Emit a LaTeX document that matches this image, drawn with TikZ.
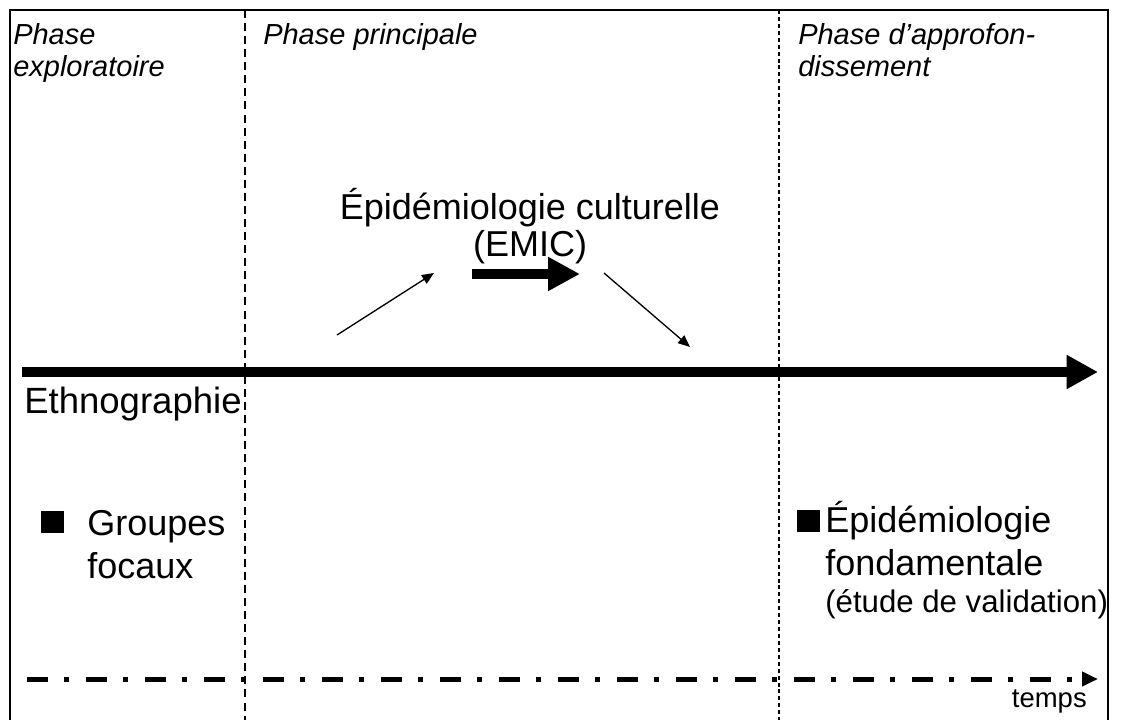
\documentclass[tikz,border=0pt]{standalone}
\usepackage{fontspec}
\setmainfont{Liberation Sans}
\usetikzlibrary{arrows.meta}
\begin{document}
\begin{tikzpicture}[x=0.75pt,y=-0.75pt,
  phase/.style={font=\fontsize{21.75pt}{24pt}\itshape\selectfont, inner sep=0pt, anchor=base west},
  big/.style={font=\fontsize{27pt}{30pt}\selectfont, inner sep=0pt},
  mid/.style={font=\fontsize{27.4pt}{30pt}\selectfont, inner sep=0pt},
  small/.style={font=\fontsize{23.4pt}{26pt}\selectfont, inner sep=0pt},
  tiny/.style={font=\fontsize{20.6pt}{23pt}\selectfont, inner sep=0pt},
  bullet/.style={fill=black, inner sep=0pt, minimum width=17pt, minimum height=16.5pt},
  frame/.style={line width=1.5pt},
  sepcoarse/.style={line width=1.4pt, dash pattern=on 6pt off 3.8pt},
  sepfine/.style={line width=0.8pt, dash pattern=on 3pt off 2.2pt},
  mainarrow/.style={line width=7.5pt, -{Triangle[length=23.5pt, width=24pt]}},
  thinarrow/.style={line width=1pt, -{Triangle[length=9pt, width=7.5pt]}},
  timearrow/.style={line width=3.75pt, dash pattern=on 15.75pt off 12pt on 3.75pt off 12.75pt,
    -{Triangle[length=12pt, width=10.5pt]}}
]
\useasboundingbox (0,0) rectangle (1121,720);
\clip (0,0) rectangle (1121,720);

% outer frame (open at the bottom edge of the page)
\draw[frame] (10,730) -- (10,10) -- (1108,10) -- (1108,730);

% phase separators
\draw[sepcoarse] (245,10) -- (245,730);
\draw[sepfine] (779,10) -- (779,730);

% phase titles
\node[phase] (expl1) at (13,45) {Phase};
\node[phase] (expl2) at (13,77) {exploratoire};
\node[phase] (princ) at (263,45) {Phase principale};
\node[phase] (appr1) at (798,45) {Phase d’approfon-};
\node[phase] (appr2) at (798,77) {dissement};

% cultural epidemiology
\node[big, anchor=base] (epicult) at (530,220) {Épidémiologie culturelle};
\node[big, anchor=base] (emic) at (530,257) {(EMIC)};

\coordinate (upS) at (337,335);
\coordinate (upE) at (434,273);
\coordinate (emicS) at (472,274);
\coordinate (emicE) at (580,274);
\coordinate (downS) at (604,273);
\coordinate (downE) at (690,347);
\draw[thinarrow] (upS) -- (upE);
\draw[mainarrow, -{Triangle[length=24pt, width=24pt]}] (emicS) -- (emicE);
\draw[thinarrow] (downS) -- (downE);

% ethnography line across all phases
\coordinate (ethS) at (22,372);
\coordinate (ethE) at (1098,372);
\draw[mainarrow] (ethS) -- (ethE);
\node[mid, anchor=base west] (ethno) at (24,413) {Ethnographie};

% focus groups
\node[bullet] (bulA) at (52.5,522) {};
\node[big, anchor=base west] (grp1) at (87,535) {Groupes};
\node[big, anchor=base west] (grp2) at (87,578) {focaux};

% fundamental epidemiology
\node[bullet] (bulB) at (808.5,521) {};
\node[big, anchor=base west] (fond1) at (825,532) {Épidémiologie};
\node[big, anchor=base west] (fond2) at (825,575) {fondamentale};
\node[small, anchor=base west] (fond3) at (825,612) {(étude de validation)};

% time axis
\coordinate (timeS) at (27,679);
\coordinate (timeE) at (1098,679);
\draw[timearrow] (timeS) -- (timeE);
\node[tiny, anchor=base east] (temps) at (1087,707) {temps};
\end{tikzpicture}
\end{document}
